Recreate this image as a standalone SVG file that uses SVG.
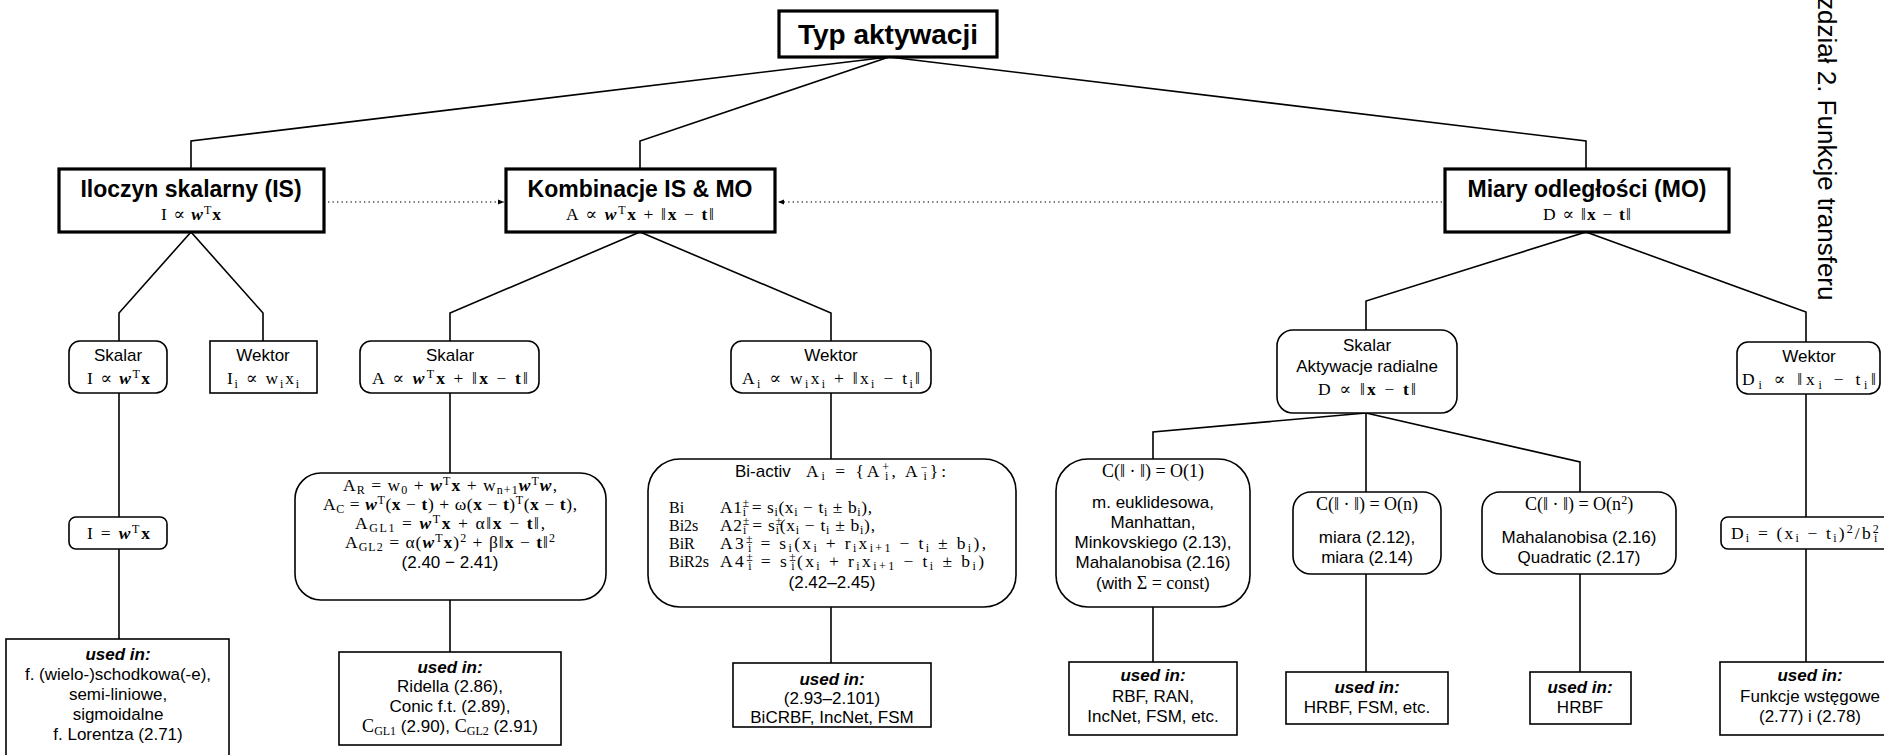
<svg xmlns="http://www.w3.org/2000/svg" width="1884" height="755" viewBox="0 0 1884 755">
<defs>
<style>
.bx{fill:#fff;stroke:#000;stroke-width:1.6}
.tb{fill:#fff;stroke:#000;stroke-width:3.2}
.c{fill:none;stroke:#000;stroke-width:1.6}
.d{fill:none;stroke:#444;stroke-width:1.3;stroke-dasharray:1.3 3.2}
.h{font-family:"Liberation Sans",Arial,sans-serif;font-weight:bold;text-anchor:middle;fill:#000}
.s{font-family:"Liberation Sans",Arial,sans-serif;font-size:17px;text-anchor:middle;fill:#000}
.u{font-weight:bold;font-style:italic}
.m{font-family:"Liberation Serif","DejaVu Serif",serif;font-size:18px;text-anchor:middle;fill:#000}
.ml{font-family:"Liberation Serif","DejaVu Serif",serif;font-size:17.5px;fill:#000}
.lb{font-family:"Liberation Serif","DejaVu Serif",serif;font-size:16px;fill:#000}
.v{font-weight:bold}
.w{font-weight:bold;font-style:italic}
.z{font-size:12px}
</style>
<marker id="ar" viewBox="0 0 6 6" refX="6" refY="3" markerWidth="6" markerHeight="6" orient="auto" markerUnits="userSpaceOnUse">
<path d="M0,0.5 L6,3 L0,5.5 Z" fill="#000"/>
</marker>
</defs>
<rect width="1884" height="755" fill="#fff"/>

<g id="connectors">
<path class="c" d="M889,57 L191,141 L191,169"/>
<path class="c" d="M889,57 L640,141 L640,169"/>
<path class="c" d="M889,57 L1586,141 L1586,169"/>
<path class="c" d="M191,232 L119,313 L119,341"/>
<path class="c" d="M191,232 L263,313 L263,341"/>
<path class="c" d="M640,232 L450,313 L450,341"/>
<path class="c" d="M640,232 L831,313 L831,341"/>
<path class="c" d="M1586,232 L1366,301 L1366,330"/>
<path class="c" d="M1586,232 L1806,312 L1806,342"/>
<path class="c" d="M119,393 L119,517"/>
<path class="c" d="M119,549 L119,639"/>
<path class="c" d="M450,393 L450,473"/>
<path class="c" d="M450,600 L450,652"/>
<path class="c" d="M831,393 L831,459"/>
<path class="c" d="M831,607 L831,663"/>
<path class="c" d="M1366,413 L1153,432 L1153,459"/>
<path class="c" d="M1366,413 L1366,492"/>
<path class="c" d="M1366,413 L1580,462 L1580,492"/>
<path class="c" d="M1153,607 L1153,662"/>
<path class="c" d="M1366,574 L1366,672"/>
<path class="c" d="M1580,574 L1580,672"/>
<path class="c" d="M1806,394 L1806,517"/>
<path class="c" d="M1806,549 L1806,662"/>
<path class="d" d="M328,202 L504,202" marker-end="url(#ar)"/>
<path class="d" d="M1442,202 L778,202" marker-end="url(#ar)"/>
</g>

<g id="header">
<text transform="translate(1818,-3) rotate(90)" font-family="'Liberation Sans',Arial,sans-serif" font-size="26" fill="#000">zdział 2. Funkcje transferu</text>
</g>

<g id="typ">
<rect class="tb" x="779" y="11" width="218" height="46"/>
<text class="h" x="888" y="44" font-size="28">Typ aktywacji</text>
</g>

<g id="iloczyn">
<rect class="tb" x="59" y="169" width="265" height="63"/>
<text class="h" x="191" y="197" font-size="23">Iloczyn skalarny (IS)</text>
<text class="ml" x="161" y="220" textLength="60">I ∝ <tspan class="w">w</tspan><tspan class="z" dy="-6">T</tspan><tspan class="v" dy="6">x</tspan></text>
</g>

<g id="kombinacje">
<rect class="tb" x="506" y="169" width="269" height="63"/>
<text class="h" x="640" y="197" font-size="23">Kombinacje IS &amp; MO</text>
<text class="ml" x="566" y="220" textLength="148">A ∝ <tspan class="w">w</tspan><tspan class="z" dy="-6">T</tspan><tspan class="v" dy="6">x</tspan> + ‖<tspan class="v">x</tspan> − <tspan class="v">t</tspan>‖</text>
</g>

<g id="miary">
<rect class="tb" x="1445" y="169" width="284" height="63"/>
<text class="h" x="1587" y="197" font-size="23">Miary odległości (MO)</text>
<text class="ml" x="1543" y="220" textLength="88">D ∝ ‖<tspan class="v">x</tspan> − <tspan class="v">t</tspan>‖</text>
</g>

<g id="skalar-is">
<rect class="bx" x="69" y="341" width="98" height="52" rx="11"/>
<text class="s" x="118" y="361">Skalar</text>
<text class="ml" x="87" y="384" textLength="63">I ∝ <tspan class="w">w</tspan><tspan class="z" dy="-6">T</tspan><tspan class="v" dy="6">x</tspan></text>
</g>

<g id="wektor-is">
<rect class="bx" x="210" y="341" width="107" height="52"/>
<text class="s" x="263" y="361">Wektor</text>
<text class="ml" x="227" y="384" textLength="72">I<tspan class="z" dy="4">i</tspan><tspan dy="-4"> ∝ w</tspan><tspan class="z" dy="4">i</tspan><tspan dy="-4">x</tspan><tspan class="z" dy="4">i</tspan></text>
</g>

<g id="skalar-komb">
<rect class="bx" x="360" y="341" width="179" height="52" rx="11"/>
<text class="s" x="450" y="361">Skalar</text>
<text class="ml" x="372" y="384" textLength="156">A ∝ <tspan class="w">w</tspan><tspan class="z" dy="-6">T</tspan><tspan class="v" dy="6">x</tspan> + ‖<tspan class="v">x</tspan> − <tspan class="v">t</tspan>‖</text>
</g>

<g id="wektor-komb">
<rect class="bx" x="731" y="341" width="200" height="52" rx="11"/>
<text class="s" x="831" y="361">Wektor</text>
<text class="ml" x="742" y="384" textLength="178">A<tspan class="z" dy="4">i</tspan><tspan dy="-4"> ∝ w</tspan><tspan class="z" dy="4">i</tspan><tspan dy="-4">x</tspan><tspan class="z" dy="4">i</tspan><tspan dy="-4"> + ‖x</tspan><tspan class="z" dy="4">i</tspan><tspan dy="-4"> − t</tspan><tspan class="z" dy="4">i</tspan><tspan dy="-4">‖</tspan></text>
</g>

<g id="skalar-mo">
<rect class="bx" x="1277" y="330" width="180" height="83" rx="16"/>
<text class="s" x="1367" y="351">Skalar</text>
<text class="s" x="1367" y="372">Aktywacje radialne</text>
<text class="ml" x="1318" y="395" textLength="98">D ∝ ‖<tspan class="v">x</tspan> − <tspan class="v">t</tspan>‖</text>
</g>

<g id="wektor-mo">
<rect class="bx" x="1737" y="342" width="143" height="52" rx="11"/>
<text class="s" x="1809" y="362">Wektor</text>
<text class="ml" x="1742" y="385" textLength="134">D<tspan class="z" dy="4">i</tspan><tspan dy="-4"> ∝ ‖x</tspan><tspan class="z" dy="4">i</tspan><tspan dy="-4"> − t</tspan><tspan class="z" dy="4">i</tspan><tspan dy="-4">‖</tspan></text>
</g>

<g id="i-eq">
<rect class="bx" x="69" y="517" width="98" height="32" rx="7"/>
<text class="ml" x="87" y="539" textLength="63">I = <tspan class="w">w</tspan><tspan class="z" dy="-6">T</tspan><tspan class="v" dy="6">x</tspan></text>
</g>

<g id="formuly-komb">
<rect class="bx" x="295" y="473" width="311" height="127" rx="26"/>
<text class="ml" x="343" y="491" textLength="214">A<tspan class="z" dy="3">R</tspan><tspan dy="-3"> = w</tspan><tspan class="z" dy="3">0</tspan><tspan dy="-3"> + </tspan><tspan class="w">w</tspan><tspan class="z" dy="-6">T</tspan><tspan class="v" dy="6">x</tspan><tspan> + w</tspan><tspan class="z" dy="3">n+1</tspan><tspan class="w" dy="-3">w</tspan><tspan class="z" dy="-6">T</tspan><tspan class="w" dy="6">w</tspan>,</text>
<text class="ml" x="323" y="510" textLength="254">A<tspan class="z" dy="3">C</tspan><tspan dy="-3"> = </tspan><tspan class="w">w</tspan><tspan class="z" dy="-6">T</tspan><tspan dy="6">(</tspan><tspan class="v">x</tspan> − <tspan class="v">t</tspan>) + ω(<tspan class="v">x</tspan> − <tspan class="v">t</tspan>)<tspan class="z" dy="-6">T</tspan><tspan dy="6">(</tspan><tspan class="v">x</tspan> − <tspan class="v">t</tspan>),</text>
<text class="ml" x="355" y="529" textLength="190">A<tspan class="z" dy="3">GL1</tspan><tspan dy="-3"> = </tspan><tspan class="w">w</tspan><tspan class="z" dy="-6">T</tspan><tspan class="v" dy="6">x</tspan> + α‖<tspan class="v">x</tspan> − <tspan class="v">t</tspan>‖,</text>
<text class="ml" x="345" y="548" textLength="210">A<tspan class="z" dy="3">GL2</tspan><tspan dy="-3"> = α(</tspan><tspan class="w">w</tspan><tspan class="z" dy="-6">T</tspan><tspan class="v" dy="6">x</tspan>)<tspan class="z" dy="-6">2</tspan><tspan dy="6"> + β‖</tspan><tspan class="v">x</tspan> − <tspan class="v">t</tspan>‖<tspan class="z" dy="-6">2</tspan></text>
<text class="s" x="450" y="568">(2.40 − 2.41)</text>
</g>

<g id="bi-activ">
<rect class="bx" x="648" y="459" width="368" height="148" rx="32"/>
<text class="s" x="735" y="477" style="text-anchor:start">Bi-activ</text>
<text class="ml" x="806" y="477" textLength="140">A<tspan class="z" dy="3">i</tspan><tspan dy="-3"> = {A</tspan><tspan class="z" dy="-6">+</tspan><tspan class="z" dx="-7" dy="9">i</tspan><tspan dy="-3">, A</tspan><tspan class="z" dy="-6">−</tspan><tspan class="z" dx="-7" dy="9">i</tspan><tspan dy="-3">}:</tspan></text>
<text class="lb" x="669" y="513">Bi</text>
<text class="lb" x="669" y="531">Bi2s</text>
<text class="lb" x="669" y="549">BiR</text>
<text class="lb" x="669" y="567">BiR2s</text>
<text class="ml" x="720" y="513" textLength="152">A1<tspan class="z" dy="-6">±</tspan><tspan class="z" dx="-7" dy="9">i</tspan><tspan dy="-3"> = s</tspan><tspan class="z" dy="3">i</tspan><tspan dy="-3">(x</tspan><tspan class="z" dy="3">i</tspan><tspan dy="-3"> − t</tspan><tspan class="z" dy="3">i</tspan><tspan dy="-3"> ± b</tspan><tspan class="z" dy="3">i</tspan><tspan dy="-3">),</tspan></text>
<text class="ml" x="720" y="531" textLength="155">A2<tspan class="z" dy="-6">±</tspan><tspan class="z" dx="-7" dy="9">i</tspan><tspan dy="-3"> = s</tspan><tspan class="z" dy="-6">±</tspan><tspan class="z" dx="-7" dy="9">i</tspan><tspan dy="-3">(x</tspan><tspan class="z" dy="3">i</tspan><tspan dy="-3"> − t</tspan><tspan class="z" dy="3">i</tspan><tspan dy="-3"> ± b</tspan><tspan class="z" dy="3">i</tspan><tspan dy="-3">),</tspan></text>
<text class="ml" x="720" y="549" textLength="266">A3<tspan class="z" dy="-6">±</tspan><tspan class="z" dx="-7" dy="9">i</tspan><tspan dy="-3"> = s</tspan><tspan class="z" dy="3">i</tspan><tspan dy="-3">(x</tspan><tspan class="z" dy="3">i</tspan><tspan dy="-3"> + r</tspan><tspan class="z" dy="3">i</tspan><tspan dy="-3">x</tspan><tspan class="z" dy="3">i+1</tspan><tspan dy="-3"> − t</tspan><tspan class="z" dy="3">i</tspan><tspan dy="-3"> ± b</tspan><tspan class="z" dy="3">i</tspan><tspan dy="-3">),</tspan></text>
<text class="ml" x="720" y="567" textLength="264">A4<tspan class="z" dy="-6">±</tspan><tspan class="z" dx="-7" dy="9">i</tspan><tspan dy="-3"> = s</tspan><tspan class="z" dy="-6">±</tspan><tspan class="z" dx="-7" dy="9">i</tspan><tspan dy="-3">(x</tspan><tspan class="z" dy="3">i</tspan><tspan dy="-3"> + r</tspan><tspan class="z" dy="3">i</tspan><tspan dy="-3">x</tspan><tspan class="z" dy="3">i+1</tspan><tspan dy="-3"> − t</tspan><tspan class="z" dy="3">i</tspan><tspan dy="-3"> ± b</tspan><tspan class="z" dy="3">i</tspan><tspan dy="-3">)</tspan></text>
<text class="s" x="832" y="588">(2.42–2.45)</text>
</g>

<g id="c-o1">
<rect class="bx" x="1056" y="459" width="194" height="148" rx="32"/>
<text class="m" x="1153" y="477">C(‖ · ‖) = O(1)</text>
<text class="s" x="1153" y="508">m. euklidesowa,</text>
<text class="s" x="1153" y="528">Manhattan,</text>
<text class="s" x="1153" y="548">Minkovskiego (2.13),</text>
<text class="s" x="1153" y="568">Mahalanobisa (2.16)</text>
<text class="s" x="1153" y="589">(with <tspan class="m">Σ = const</tspan>)</text>
</g>

<g id="c-on">
<rect class="bx" x="1293" y="492" width="148" height="82" rx="18"/>
<text class="m" x="1367" y="510">C(‖ · ‖) = O(n)</text>
<text class="s" x="1367" y="543">miara (2.12),</text>
<text class="s" x="1367" y="563">miara (2.14)</text>
</g>

<g id="c-on2">
<rect class="bx" x="1482" y="492" width="194" height="82" rx="18"/>
<text class="m" x="1579" y="510">C(‖ · ‖) = O(n<tspan class="z" dy="-6">2</tspan><tspan dy="6">)</tspan></text>
<text class="s" x="1579" y="543">Mahalanobisa (2.16)</text>
<text class="s" x="1579" y="563">Quadratic (2.17)</text>
</g>

<g id="d-eq">
<rect class="bx" x="1721" y="517" width="172" height="32" rx="7"/>
<text class="ml" x="1731" y="539" textLength="150">D<tspan class="z" dy="3">i</tspan><tspan dy="-3"> = (x</tspan><tspan class="z" dy="3">i</tspan><tspan dy="-3"> − t</tspan><tspan class="z" dy="3">i</tspan><tspan dy="-3">)</tspan><tspan class="z" dy="-6">2</tspan><tspan dy="6">/b</tspan><tspan class="z" dy="-6">2</tspan><tspan class="z" dx="-7" dy="9">i</tspan></text>
</g>

<g id="used-1">
<rect class="bx" x="6" y="639" width="223" height="125"/>
<text class="s u" x="118" y="660">used in:</text>
<text class="s" x="118" y="680">f. (wielo-)schodkowa(-e),</text>
<text class="s" x="118" y="700">semi-liniowe,</text>
<text class="s" x="118" y="720">sigmoidalne</text>
<text class="s" x="118" y="740">f. Lorentza (2.71)</text>
</g>

<g id="used-2">
<rect class="bx" x="339" y="652" width="222" height="93"/>
<text class="s u" x="450" y="673">used in:</text>
<text class="s" x="450" y="692">Ridella (2.86),</text>
<text class="s" x="450" y="712">Conic f.t. (2.89),</text>
<text class="s" x="450" y="732"><tspan class="m">C</tspan><tspan class="m z" dy="3">GL1</tspan><tspan dy="-3"> (2.90), </tspan><tspan class="m">C</tspan><tspan class="m z" dy="3">GL2</tspan><tspan dy="-3"> (2.91)</tspan></text>
</g>

<g id="used-3">
<rect class="bx" x="733" y="663" width="198" height="64"/>
<text class="s u" x="832" y="685">used in:</text>
<text class="s" x="832" y="704">(2.93–2.101)</text>
<text class="s" x="832" y="723">BiCRBF, IncNet, FSM</text>
</g>

<g id="used-4">
<rect class="bx" x="1069" y="662" width="168" height="73"/>
<text class="s u" x="1153" y="681">used in:</text>
<text class="s" x="1153" y="702">RBF, RAN,</text>
<text class="s" x="1153" y="722">IncNet, FSM, etc.</text>
</g>

<g id="used-5">
<rect class="bx" x="1286" y="672" width="162" height="52"/>
<text class="s u" x="1367" y="693">used in:</text>
<text class="s" x="1367" y="713">HRBF, FSM, etc.</text>
</g>

<g id="used-6">
<rect class="bx" x="1530" y="672" width="101" height="52"/>
<text class="s u" x="1580" y="693">used in:</text>
<text class="s" x="1580" y="713">HRBF</text>
</g>

<g id="used-7">
<rect class="bx" x="1720" y="662" width="174" height="73"/>
<text class="s u" x="1810" y="681">used in:</text>
<text class="s" x="1810" y="702">Funkcje wstęgowe</text>
<text class="s" x="1810" y="722">(2.77) i (2.78)</text>
</g>
</svg>
